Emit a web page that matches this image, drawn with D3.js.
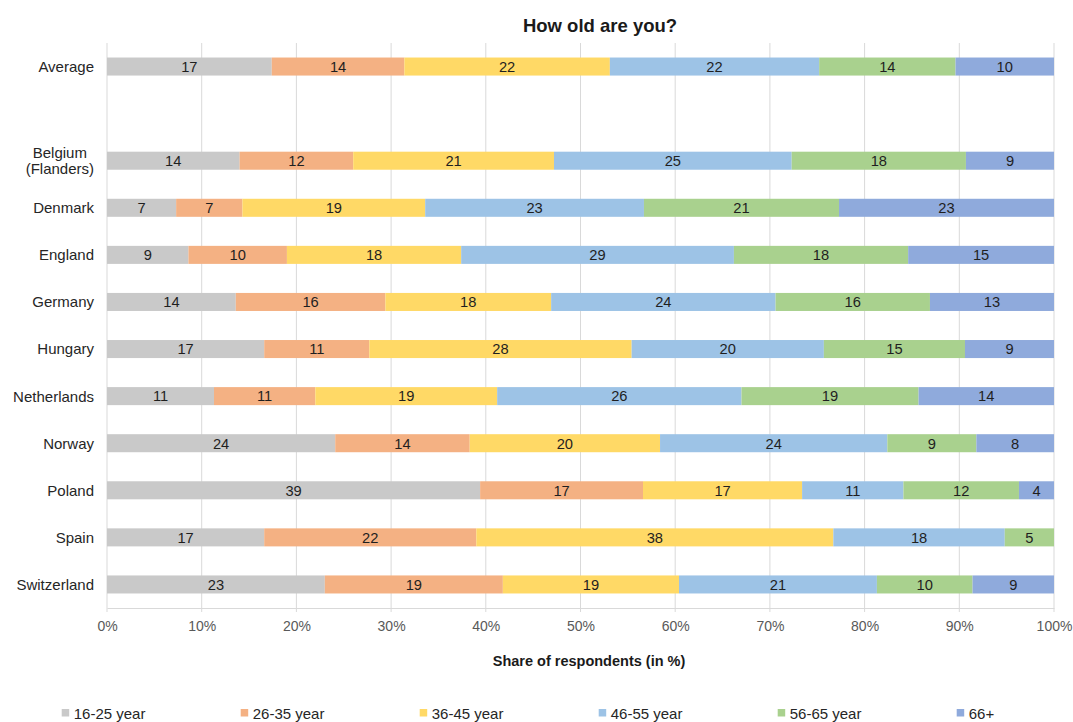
<!DOCTYPE html>
<html>
<head>
<meta charset="utf-8">
<script src="https://cdn.jsdelivr.net/npm/d3@7"></script>
<style>
  html, body { margin: 0; padding: 0; background: #fff; }
  svg { display: block; font-family: "Liberation Sans", Arial, sans-serif; }
</style>
</head>
<body>
<svg id="chart" width="1073" height="722"></svg>
<script>
// ---- data ----
const categories = ["Average", "", "Belgium\n(Flanders)", "Denmark", "England", "Germany", "Hungary",
  "Netherlands", "Norway", "Poland", "Spain", "Switzerland"];
const seriesNames = ["16-25 year", "26-35 year", "36-45 year", "46-55 year", "56-65 year", "66+"];
const age16_25 = [17.4, null, 14.0, 7.3, 8.6, 13.6, 16.6, 11.3, 24.1, 39.4, 16.6, 23.0];
const age26_35 = [14.0, null, 12.0, 7.0, 10.4, 15.8, 11.1, 10.7, 14.2, 17.2, 22.4, 18.8];
const age36_45 = [21.7, null, 21.2, 19.3, 18.4, 17.5, 27.7, 19.2, 20.1, 16.8, 37.7, 18.6];
const age46_55 = [22.1, null, 25.1, 23.1, 28.8, 23.7, 20.3, 25.8, 24.0, 10.7, 18.1, 20.9];
const age56_65 = [14.4, null, 18.4, 20.6, 18.4, 16.3, 14.9, 18.7, 9.4, 12.2, 5.2, 10.1];
const age66plus = [10.4, null, 9.3, 22.7, 15.4, 13.1, 9.4, 14.3, 8.2, 3.7, 0, 8.6];
const xTicks = [0, 10, 20, 30, 40, 50, 60, 70, 80, 90, 100];
const colors = ["#c9c9c9", "#f4b183", "#ffd966", "#9dc3e6", "#a9d18e", "#8faadc"];
const titleText = "How old are you?";
const xTitleText = "Share of respondents (in %)";

const seriesValues = [age16_25, age26_35, age36_45, age46_55, age56_65, age66plus];

// ---- build table ----
const rows = categories.map((c, i) => {
  const r = { key: "c" + i, label: c };
  seriesNames.forEach((s, j) => { r[s] = seriesValues[j][i] == null ? 0 : seriesValues[j][i]; });
  r.empty = seriesValues[0][i] == null;
  return r;
});
const stacked = d3.stack().keys(seriesNames)(rows);

const svg = d3.select("#chart");
const mLeft = 107, mRight = 1054, mTop = 43, mBottom = 608;

const x = d3.scaleLinear().domain([0, 100]).range([mLeft, mRight]);
const y = d3.scaleBand().domain(rows.map(r => r.key)).range([mTop, mBottom])
  .paddingInner(0.617).paddingOuter(0.3085);

// gridlines
svg.append("g")
  .selectAll("line").data(xTicks).join("line")
  .attr("x1", d => x(d)).attr("x2", d => x(d))
  .attr("y1", mTop).attr("y2", mBottom + 4)
  .attr("stroke", "#d9d9d9").attr("stroke-width", 1);

// x axis
const xAxis = d3.axisBottom(x).tickValues(xTicks).tickFormat(d => d + "%").tickSize(0).tickPadding(13);
const gx = svg.append("g").attr("transform", `translate(0,${mBottom})`).call(xAxis);
gx.select(".domain").attr("stroke", "#d9d9d9");
gx.selectAll("text").attr("font-size", "14px").attr("fill", "#595959")
  .attr("font-family", "'Liberation Sans', Arial, sans-serif");

// bars
const layer = svg.append("g").selectAll("g").data(stacked).join("g")
  .attr("fill", (d, i) => colors[i]);
layer.selectAll("rect").data(d => d.filter(p => !p.data.empty)).join("rect")
  .attr("x", d => x(d[0]))
  .attr("width", d => Math.max(0, x(d[1]) - x(d[0])))
  .attr("y", d => y(d.data.key))
  .attr("height", y.bandwidth());

// data labels
const lbl = svg.append("g");
stacked.forEach(s => {
  s.forEach(p => {
    const v = p[1] - p[0];
    if (p.data.empty || v <= 0) return;
    lbl.append("text")
      .attr("x", (x(p[0]) + x(p[1])) / 2)
      .attr("y", y(p.data.key) + y.bandwidth() / 2)
      .attr("dy", "0.36em")
      .attr("text-anchor", "middle")
      .attr("font-size", "14.7px")
      .attr("fill", "#1f1f1f")
      .text(Math.round(v));
  });
});

// category labels
const cat = svg.append("g");
rows.forEach(r => {
  if (!r.label) return;
  const lines = r.label.split("\n");
  const cy = y(r.key) + y.bandwidth() / 2;
  const t = cat.append("text")
    .attr("font-size", "15px").attr("fill", "#262626");
  if (lines.length === 1) {
    t.attr("x", 94).attr("y", cy).attr("dy", "0.36em").attr("text-anchor", "end").text(lines[0]);
  } else {
    t.attr("text-anchor", "middle");
    lines.forEach((ln, i) => {
      t.append("tspan").attr("x", 0).attr("y", cy + (i - (lines.length - 1) / 2) * 16.5)
        .attr("dy", "0.36em").text(ln);
    });
    const w = t.node().getBBox().width;
    t.selectAll("tspan").attr("x", 94 - w / 2);
  }
});

// title
svg.append("text").attr("x", 600).attr("y", 25).attr("dy", "0.36em")
  .attr("text-anchor", "middle").attr("font-size", "18.5px").attr("font-weight", "bold")
  .attr("fill", "#1a1a1a").text(titleText);

// x title
svg.append("text").attr("x", 589).attr("y", 661).attr("dy", "0.36em")
  .attr("text-anchor", "middle").attr("font-size", "14.5px").attr("font-weight", "bold")
  .attr("fill", "#1a1a1a").text(xTitleText);

// legend
const leg = svg.append("g").selectAll("g").data(seriesNames).join("g")
  .attr("transform", (d, i) => `translate(${61.7 + i * 179},713)`);
leg.append("rect").attr("x", 0).attr("y", -4).attr("width", 7.5).attr("height", 7.5)
  .attr("fill", (d, i) => colors[i]);
leg.append("text").attr("x", 12).attr("y", 0.5).attr("dy", "0.36em")
  .attr("font-size", "15px").attr("fill", "#262626").text(d => d);
</script>
</body>
</html>
